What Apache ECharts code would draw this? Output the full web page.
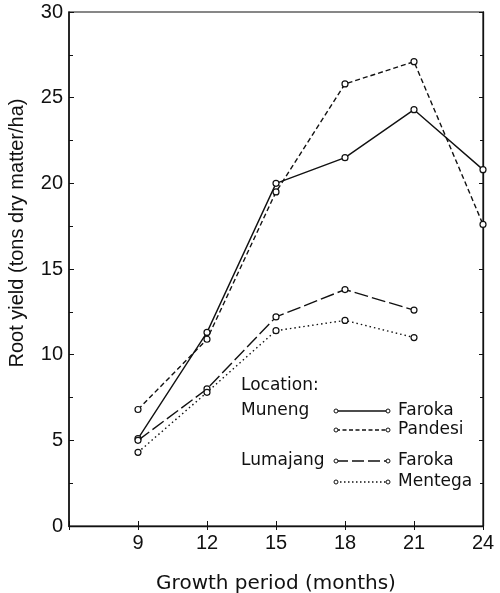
<!DOCTYPE html>
<html>
<head>
<meta charset="utf-8">
<script src="https://cdn.jsdelivr.net/npm/echarts@6/dist/echarts.min.js"></script>
<style>
  html, body { margin: 0; padding: 0; background: #fff; }
  #chart { width: 500px; height: 593px; }
</style>
</head>
<body>
<div id="chart"></div>
<script>
const months = [9, 12, 15, 18, 21, 24]
const munengFaroka = [5.1, 11.3, 20.0, 21.5, 24.3, 20.8]
const munengPandesi = [6.8, 10.9, 19.5, 25.8, 27.1, 17.6]
const lumajangFaroka = [5.0, 8.0, 12.2, 13.8, 12.6]
const lumajangMentega = [4.3, 7.8, 11.4, 12.0, 11.0]
const yTicks = [0, 5, 10, 15, 20, 25, 30]

const INK = '#111'
const FONT = 'Liberation Sans'
const WIDE = 'DejaVu Sans'

const pairs = (vals) => vals.map((v, i) => [months[i], v])

function lineSeries(name, vals, dash) {
  return {
    name,
    type: 'line',
    data: pairs(vals),
    symbol: 'circle',
    symbolSize: 6,
    showSymbol: true,
    itemStyle: { color: '#fff', borderColor: INK, borderWidth: 1.2 },
    lineStyle: { color: INK, width: 1.4, type: dash },
    z: 3,
    animation: false,
  }
}

// legend drawn as graphic: sample line with end circles
function legendRow(y, dash, label) {
  const x0 = 336, x1 = 388
  return [
    { type: 'line', shape: { x1: x0, y1: y, x2: x1, y2: y },
      style: { stroke: INK, lineWidth: 1.3, lineDash: dash } },
    { type: 'circle', shape: { cx: x0, cy: y, r: 2 }, style: { fill: '#fff', stroke: INK, lineWidth: 1 } },
    { type: 'circle', shape: { cx: x1, cy: y, r: 2 }, style: { fill: '#fff', stroke: INK, lineWidth: 1 } },
    { type: 'text', x: 398, y, style: { text: label, fill: INK, font: `17px "${WIDE}"`, textVerticalAlign: 'middle' } },
  ]
}

const chart = echarts.init(document.getElementById('chart'), null, { renderer: 'canvas' })

chart.setOption({
  backgroundColor: '#fff',
  animation: false,
  grid: {
    left: 69, right: 17, top: 12, bottom: 67,
    outerBoundsMode: 'none',
    show: true, borderColor: INK, borderWidth: 1.2,
  },
  xAxis: [{
    type: 'value',
    min: 6,
    max: 24,
    interval: 3,
    name: 'Growth period (months)',
    nameLocation: 'middle',
    nameGap: 48,
    nameTextStyle: { color: INK, fontSize: 20, fontFamily: WIDE },
    axisLine: { lineStyle: { color: INK, width: 1.4 } },
    axisTick: { inside: true, length: 5, lineStyle: { color: INK } },
    axisLabel: {
      color: INK, fontSize: 20, fontFamily: FONT, margin: 7,
      formatter: (v) => (v === 6 ? '' : String(v)),
    },
    splitLine: { show: false },
  }, {
    type: 'value',
    position: 'top',
    min: 6,
    max: 24,
    interval: 3,
    axisLine: { lineStyle: { color: INK, width: 1.2 } },
    axisTick: { inside: true, length: 4, lineStyle: { color: INK } },
    axisLabel: { show: false },
    splitLine: { show: false },
  }],
  yAxis: [{
    type: 'value',
    min: yTicks[0],
    max: yTicks[yTicks.length - 1],
    interval: 5,
    name: 'Root yield (tons dry matter/ha)',
    nameLocation: 'middle',
    nameGap: 42,
    nameTextStyle: { color: INK, fontSize: 20, fontFamily: FONT, padding: [0, 0, 0, 72] },
    axisLine: { show: true, lineStyle: { color: INK, width: 1.5 } },
    axisTick: { inside: true, length: 5, lineStyle: { color: INK } },
    minorTick: { show: true, splitNumber: 2, length: 4, lineStyle: { color: INK } },
    axisLabel: { color: INK, fontSize: 20, fontFamily: FONT, margin: 6 },
    splitLine: { show: false },
  }, {
    type: 'value',
    position: 'right',
    min: yTicks[0],
    max: yTicks[yTicks.length - 1],
    interval: 5,
    axisLine: { show: true, lineStyle: { color: INK, width: 1.3 } },
    axisTick: { inside: true, length: 4, lineStyle: { color: INK } },
    minorTick: { show: true, splitNumber: 2, length: 3, lineStyle: { color: INK } },
    axisLabel: { show: false },
    splitLine: { show: false },
  }],
  series: [
    lineSeries('Muneng Faroka', munengFaroka, 'solid'),
    lineSeries('Muneng Pandesi', munengPandesi, [5, 3]),
    lineSeries('Lumajang Faroka', lumajangFaroka, [14, 4]),
    lineSeries('Lumajang Mentega', lumajangMentega, [1.5, 3]),
  ],
  graphic: [
    { type: 'text', x: 241, y: 386, style: { text: 'Location:', fill: INK, font: `17px "${WIDE}"`, textVerticalAlign: 'middle' } },
    { type: 'text', x: 241, y: 411, style: { text: 'Muneng', fill: INK, font: `17px "${WIDE}"`, textVerticalAlign: 'middle' } },
    { type: 'text', x: 241, y: 461, style: { text: 'Lumajang', fill: INK, font: `17px "${WIDE}"`, textVerticalAlign: 'middle' } },
    ...legendRow(411, null, 'Faroka'),
    ...legendRow(430, [4, 2.5], 'Pandesi'),
    ...legendRow(461, [12, 4], 'Faroka'),
    ...legendRow(482, [1.5, 2.5], 'Mentega'),
  ],
})
</script>
</body>
</html>
